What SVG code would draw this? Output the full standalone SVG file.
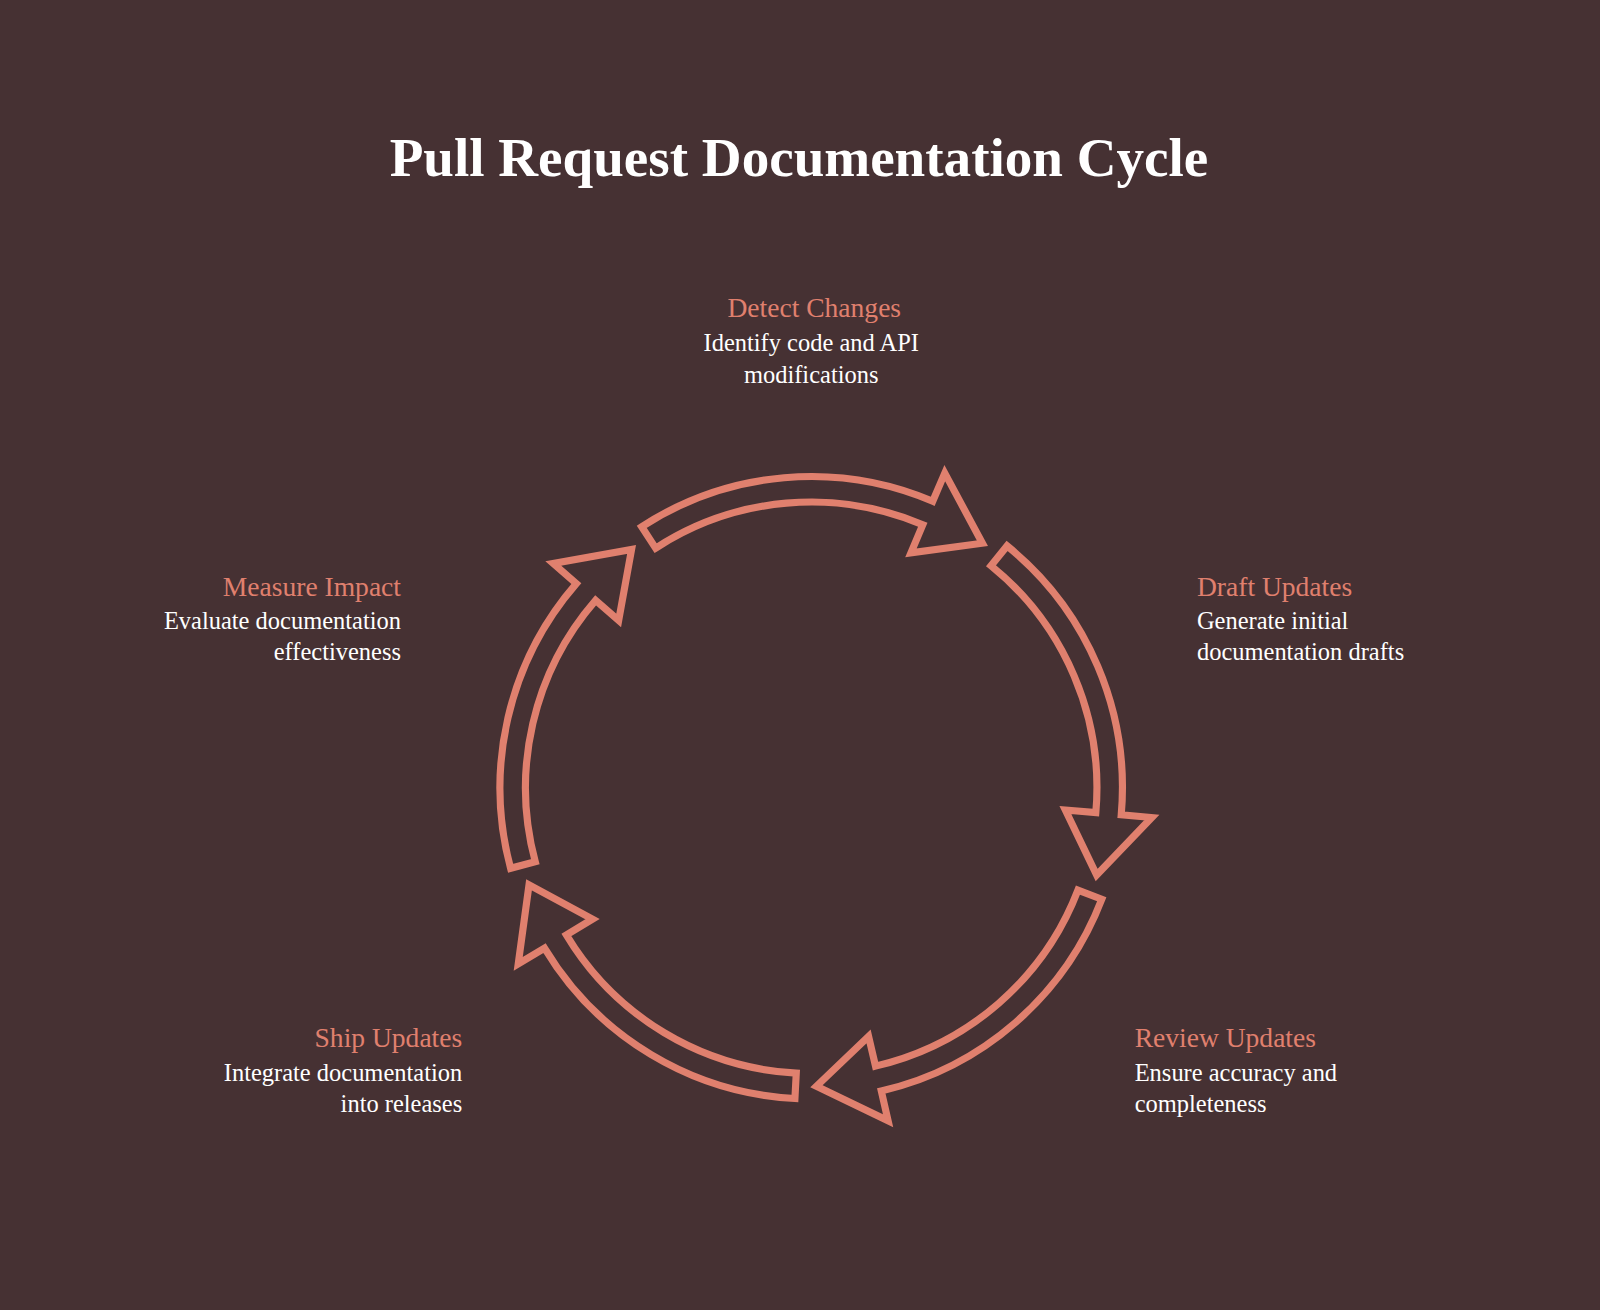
<svg xmlns="http://www.w3.org/2000/svg" width="1600" height="1310" viewBox="0 0 1600 1310">
<style>
.t{font-family:"Liberation Serif","Times New Roman",serif}
.h{fill:#E0806E;font-size:27px}
.d{fill:#ffffff;font-size:24px}
.ar{fill:none;stroke:#E0806E;stroke-width:7;stroke-linejoin:miter}
</style>
<defs>
<path id="arr" d="M305,0 A305,305 0 0 1 170.6,252.8 L187.3,277.7 L109.6,271.2 L139.8,207.3 L156.6,232.1 A280,280 0 0 0 280,0 Z"/>
</defs>
<rect width="1600" height="1310" fill="#463133"/>
<g transform="scale(1.0204)">
<text class="t" x="783" y="172" text-anchor="middle" font-size="54" font-weight="bold" fill="#ffffff">Pull Request Documentation Cycle</text>
<g id="connectors" transform="translate(795,772)">
<use href="#arr" class="ar" transform="rotate(-123)"/>
<use href="#arr" class="ar" transform="rotate(-51)"/>
<use href="#arr" class="ar" transform="rotate(21)"/>
<use href="#arr" class="ar" transform="rotate(93)"/>
<use href="#arr" class="ar" transform="rotate(165)"/>
</g>
<g id="detect" class="t" text-anchor="middle">
<text class="h" x="798" y="311">Detect Changes</text>
<text class="d" x="795" y="344">Identify code and API</text>
<text class="d" x="795" y="375">modifications</text>
</g>
<g id="draft" class="t">
<text class="h" x="1173" y="584">Draft Updates</text>
<text class="d" x="1173" y="616">Generate initial</text>
<text class="d" x="1173" y="647">documentation drafts</text>
</g>
<g id="review" class="t">
<text class="h" x="1112" y="1026">Review Updates</text>
<text class="d" x="1112" y="1059">Ensure accuracy and</text>
<text class="d" x="1112" y="1090">completeness</text>
</g>
<g id="ship" class="t" text-anchor="end">
<text class="h" x="453" y="1026">Ship Updates</text>
<text class="d" x="453" y="1059">Integrate documentation</text>
<text class="d" x="453" y="1090">into releases</text>
</g>
<g id="measure" class="t" text-anchor="end">
<text class="h" x="393" y="584">Measure Impact</text>
<text class="d" x="393" y="616">Evaluate documentation</text>
<text class="d" x="393" y="647">effectiveness</text>
</g>
</g>
</svg>
